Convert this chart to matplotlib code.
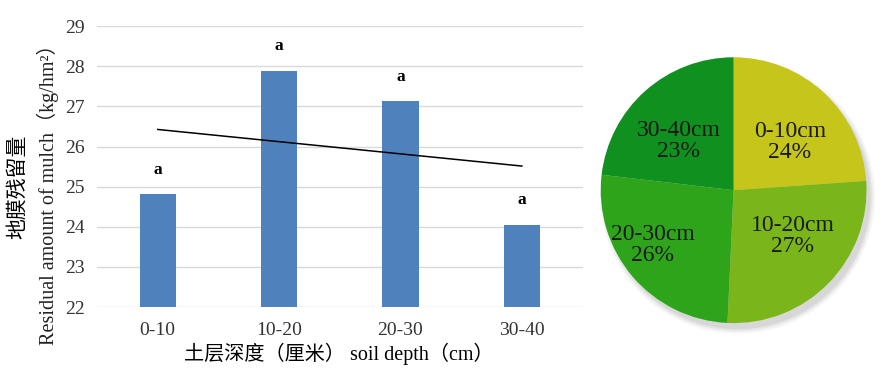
import numpy as np
import matplotlib
matplotlib.use("Agg")
import matplotlib.pyplot as plt
from matplotlib.patches import Circle

plt.rcParams['font.family'] = ['Liberation Serif', 'Noto Sans CJK SC']

# data
depths = ['0-10', '10-20', '20-30', '30-40']
residual = [24.81, 27.89, 27.13, 24.05]
letters = ['a', 'a', 'a', 'a']
pie_labels = ['0-10cm', '10-20cm', '20-30cm', '30-40cm']
pie_colors = ['#C5C51A', '#7AB619', '#2EA41A', '#10901E']

fig = plt.figure(figsize=(8.86, 3.74), dpi=100)

#%% bar chart
ax = fig.add_axes([0.1095, 0.179, 0.548, 0.751])
x = np.arange(len(depths))
bars = ax.bar(x, residual, width=0.3, color='#4F81BD', zorder=3)
ax.set_ylim(22, 29)
ax.set_xlim(-0.5, 3.5)
ax.set_yticks(range(22, 30))
ax.set_xticks(x)
ax.set_xticklabels(depths)
ax.tick_params(length=0, labelsize=14, colors='#333333')
ax.tick_params(axis='x', pad=11)
ax.tick_params(axis='y', pad=9)
ax.grid(axis='y', color='#D9D9D9', lw=1, zorder=0)
for s in ax.spines.values():
    s.set_visible(False)

for b, t in zip(bars, letters):
    ax.annotate(t, (b.get_x() + b.get_width() / 2, b.get_height()),
                xytext=(0, 12), textcoords='offset points',
                ha='center', va='bottom', fontsize=12.5, fontweight='bold')

# linear trend
k, c = np.polyfit(x, residual, 1)
ax.plot(x[[0, -1]], k * x[[0, -1]] + c, color='black', lw=1.1, zorder=4)

fig.text(0.021, 0.50, '地膜残留量', rotation=90, ha='center', va='center',
         fontsize=15)
fig.text(0.054, 0.493, 'Residual amount of mulch（kg/hm²）', rotation=90,
         ha='center', va='center', fontsize=14.5, color='#222222')
fig.text(0.382, 0.053, '土层深度（厘米） soil depth（cm）', ha='center',
         va='center', fontsize=14.5)

#%% pie chart
pax = fig.add_axes([0.678, 0.136, 0.300, 0.711])
# soft grey shadow
for i, a in enumerate([0.05, 0.07, 0.09, 0.12]):
    pax.add_patch(Circle((0.03, -0.045), 1.0 + 0.012 * (3 - i), color='#808080',
                         alpha=a, lw=0, clip_on=False, zorder=0))
wedges, _ = pax.pie(residual, colors=pie_colors, startangle=90,
                    counterclock=False, radius=1,
                    wedgeprops={'zorder': 2})
pax.set_xlim(-1, 1)
pax.set_ylim(-1, 1)
pax.set_aspect('equal')
total = sum(residual)
for i, (w, lab, v) in enumerate(zip(wedges, pie_labels, residual)):
    ang = np.deg2rad((w.theta1 + w.theta2) / 2)
    r = 0.8 if i == 2 else 0.62
    pax.text(r * np.cos(ang), 0.8 * r * np.sin(ang),
             '%s\n%d%%' % (lab, round(100 * v / total)),
             ha='center', va='center', fontsize=17, linespacing=1.0,
             color='#1a1a1a', zorder=5)
for p in pax.patches:
    p.set_clip_on(False)

fig.savefig('out.png', dpi=100)
